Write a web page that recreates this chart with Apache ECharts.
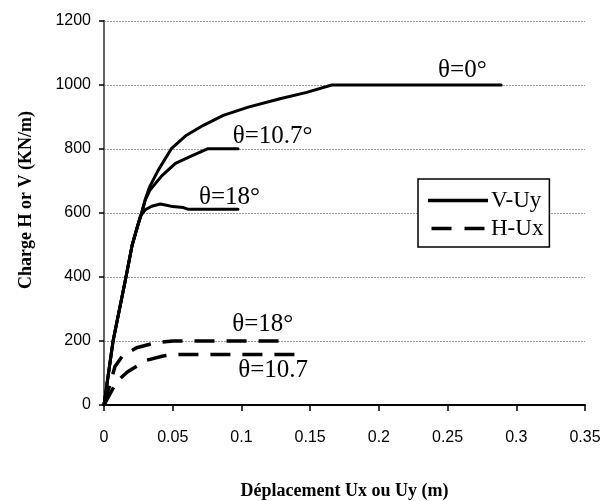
<!DOCTYPE html>
<html>
<head>
<meta charset="utf-8">
<script src="https://cdn.jsdelivr.net/npm/echarts@6/dist/echarts.min.js"></script>
<style>html,body{margin:0;padding:0;background:#fff;}#c{width:612px;height:501px;}</style>
</head>
<body>
<div id="c"></div>
<script>
// ---- data (x = displacement in m, y = load in kN/m) ----
const xTicks = [0, 0.05, 0.1, 0.15, 0.2, 0.25, 0.3, 0.35];
const yTicks = [0, 200, 400, 600, 800, 1000, 1200];

const vUy_theta0 = [[0,0],[0.0066,200],[0.016,400],[0.0205,500],[0.0243,557],[0.0274,600],[0.030,642],[0.033,680],[0.0395,734],[0.049,801],[0.060,843],[0.0723,874],[0.0868,905],[0.105,931],[0.128,957],[0.1475,977],[0.1657,1000],[0.289,1000]];
const vUy_theta107 = [[0,0],[0.0066,200],[0.016,400],[0.0205,500],[0.0243,557],[0.0274,600],[0.030,640],[0.0335,672],[0.042,716],[0.052,755],[0.0626,776],[0.0757,801],[0.0975,801]];
const vUy_theta18 = [[0,0],[0.0066,200],[0.016,400],[0.0205,500],[0.0243,557],[0.0265,590],[0.030,610],[0.0347,621],[0.041,628],[0.0456,624],[0.050,620],[0.0577,617],[0.061,612],[0.0975,612]];
const hUx_theta18 = [[0,0],[0.008,120],[0.0133,153],[0.0237,179],[0.038,195],[0.050,200],[0.128,200]];
const hUx_theta107 = [[0,0],[0.0092,73],[0.0172,104],[0.031,140],[0.043,153],[0.050,158],[0.14,158]];

const annotationTexts = ['θ=0°', 'θ=10.7°', 'θ=18°', 'θ=18°', 'θ=10.7'];
const annotationAnchors = [[0.2431,1046],[0.0937,840],[0.0691,649],[0.0933,253],[0.0977,109]];

const legendNames = ['V-Uy', 'H-Ux'];

// ---- chart ----
const chart = echarts.init(document.getElementById('c'), null, {renderer: 'canvas'});

function mark(i) {
  return {
    silent: true,
    symbol: 'circle',
    symbolSize: 0,
    itemStyle: {color: 'rgba(0,0,0,0)'},
    label: {
      show: true, position: 'right', distance: 0,
      formatter: annotationTexts[i],
      fontFamily: 'Liberation Serif', fontSize: 25, color: '#000',
      verticalAlign: 'middle', align: 'left'
    },
    data: [{coord: annotationAnchors[i]}]
  };
}

function solid(data, i) {
  return {
    type: 'line', name: legendNames[0], data: data, symbol: 'none',
    lineStyle: {color: '#000', width: 3, type: 'solid', join: 'round', cap: 'round'},
    itemStyle: {color: '#000'},
    markPoint: mark(i), z: 3
  };
}
function dashed(data, i) {
  return {
    type: 'line', name: legendNames[1], data: data, symbol: 'none',
    lineStyle: {color: '#000', width: 3.5, type: [20, 12], join: 'round'},
    itemStyle: {color: '#000'},
    markPoint: mark(i), z: 3
  };
}

chart.setOption({
  animation: false,
  backgroundColor: '#fff',
  grid: {left: 104, right: 27, top: 21, bottom: 96, containLabel: false, outerBoundsMode: 'none'},
  legend: {
    data: [
      {name: legendNames[0], icon: 'path://M0,0h60v3.5h-60z'},
      {name: legendNames[1], icon: 'path://M0,0h20v3.5h-20zM33,0h20v3.5h-20z'}
    ],
    orient: 'vertical',
    left: 418, top: 179,
    backgroundColor: '#fff',
    borderColor: '#000', borderWidth: 1.5, borderRadius: 0,
    padding: [10, 6, 7, 10],
    itemGap: 5, itemWidth: 60, itemHeight: 3.5,
    textStyle: {fontFamily: 'Liberation Serif', fontSize: 23, color: '#000', padding: [0,0,0,-2]},
    selectedMode: false
  },
  xAxis: {
    type: 'value', min: xTicks[0], max: xTicks[xTicks.length-1], interval: 0.05,
    name: 'Déplacement Ux ou Uy (m)', nameLocation: 'middle', nameGap: 77,
    nameTextStyle: {fontFamily: 'Liberation Serif', fontWeight: 'bold', fontSize: 18, color: '#000'},
    axisLine: {show: true, onZero: false, lineStyle: {color: '#000', width: 2}},
    axisTick: {show: true, inside: false, length: 6, lineStyle: {color: '#000', width: 1.5}},
    axisLabel: {margin: 25, fontFamily: 'Liberation Sans', fontSize: 16, color: '#000'},
    splitLine: {show: false}
  },
  yAxis: [{
    type: 'value', min: yTicks[0], max: yTicks[yTicks.length-1], interval: 200,
    name: 'Charge H or V (KN/m)', nameLocation: 'middle', nameGap: 69,
    nameTextStyle: {fontFamily: 'Liberation Serif', fontWeight: 'bold', fontSize: 18, color: '#000', padding: [0,0,0,26]},
    axisLine: {show: true, onZero: false, lineStyle: {color: '#000', width: 2}},
    axisTick: {show: true, inside: false, length: 5, lineStyle: {color: '#000', width: 1.5}},
    axisLabel: {margin: 13, fontFamily: 'Liberation Sans', fontSize: 16, color: '#000', formatter: v => String(v)},
    splitLine: {show: true, lineStyle: {color: '#9a9a9a', width: 1, type: [2, 1]}}
  }, {
    type: 'value', min: yTicks[0], max: yTicks[yTicks.length-1], interval: 200, position: 'right',
    axisLine: {show: true, lineStyle: {color: '#8a8a8a', width: 1.5}},
    axisTick: {show: false}, axisLabel: {show: false}, splitLine: {show: false}
  }],
  series: [
    solid(vUy_theta0, 0),
    solid(vUy_theta107, 1),
    solid(vUy_theta18, 2),
    dashed(hUx_theta18, 3),
    dashed(hUx_theta107, 4)
  ]
});
</script>
</body>
</html>
